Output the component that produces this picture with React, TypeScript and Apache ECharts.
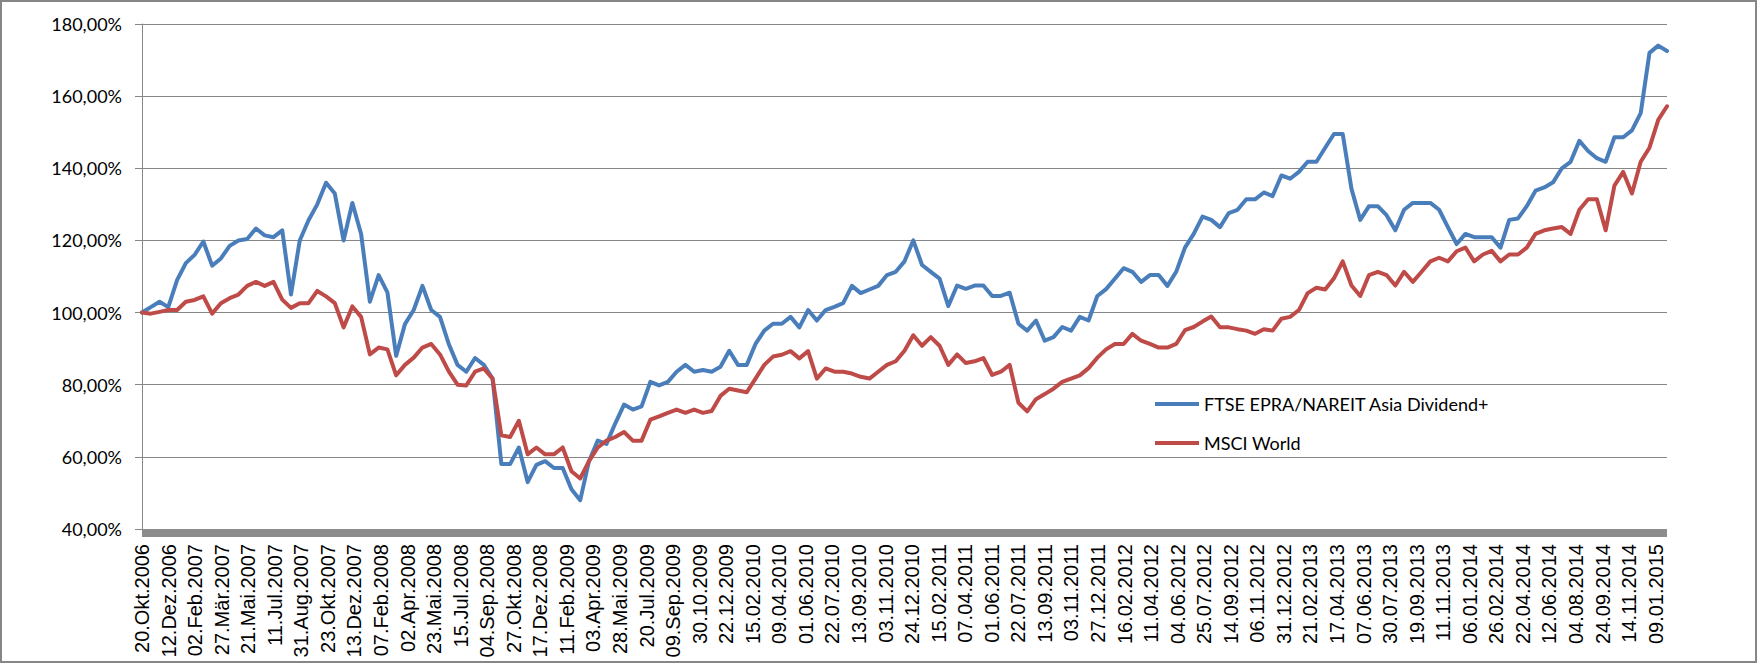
import React, { useEffect, useRef } from "react";
import * as echarts from "echarts";

// Tick labels of the category (date) axis, one per label interval
const DATE_LABELS = [
  "20.Okt.2006", "12.Dez.2006", "02.Feb.2007", "27.Mär.2007", "21.Mai.2007", "11.Jul.2007",
  "31.Aug.2007", "23.Okt.2007", "13.Dez.2007", "07.Feb.2008", "02.Apr.2008", "23.Mai.2008",
  "15.Jul.2008", "04.Sep.2008", "27.Okt.2008", "17.Dez.2008", "11.Feb.2009", "03.Apr.2009",
  "28.Mai.2009", "20.Jul.2009", "09.Sep.2009", "30.10.2009", "22.12.2009", "15.02.2010",
  "09.04.2010", "01.06.2010", "22.07.2010", "13.09.2010", "03.11.2010", "24.12.2010",
  "15.02.2011", "07.04.2011", "01.06.2011", "22.07.2011", "13.09.2011", "03.11.2011",
  "27.12.2011", "16.02.2012", "11.04.2012", "04.06.2012", "25.07.2012", "14.09.2012",
  "06.11.2012", "31.12.2012", "21.02.2013", "17.04.2013", "07.06.2013", "30.07.2013",
  "19.09.2013", "11.11.2013", "06.01.2014", "26.02.2014", "22.04.2014", "12.06.2014",
  "04.08.2014", "24.09.2014", "14.11.2014", "09.01.2015",
];

// number of read samples between two consecutive date labels
const SAMPLES_PER_LABEL = 3.03;

const SERIES_NAMES = ["FTSE EPRA/NAREIT Asia Dividend+", "MSCI World"];

const ASIA_DIVIDEND = [
  100, 101.5, 103,
  101.5, 109, 113.7,
  116, 119.7, 113,
  115, 118.5, 120,
  120.4, 123.3, 121.4,
  120.9, 122.8, 105,
  120, 125.6, 130,
  136, 133, 120,
  130.4, 121.8, 103,
  110.4, 105.6, 88,
  96.8, 100.7, 107.4,
  100.7, 98.8, 91.3,
  85.5, 83.6, 87.4,
  85.5, 81.7, 58,
  58, 62.6, 53,
  57.8, 58.8, 56.9,
  56.9, 51, 48,
  58.8, 64.5, 63.6,
  69.3, 74.5, 73.1,
  74, 80.8, 79.8,
  80.8, 83.6, 85.5,
  83.6, 84.1, 83.6,
  85, 89.4, 85.5,
  85.5, 91.3, 95,
  96.9, 96.9, 98.8,
  95.9, 100.7, 97.8,
  100.7, 101.6, 102.6,
  107.4, 105.4, 106.4,
  107.4, 110.4, 111.3,
  114.2, 120, 113.2,
  111.3, 109.4, 101.8,
  107.5, 106.6, 107.5,
  107.5, 104.6, 104.6,
  105.5, 96.9, 95,
  97.8, 92.2, 93.2,
  96, 95, 98.8,
  97.8, 104.6, 106.5,
  109.4, 112.3, 111.3,
  108.5, 110.4, 110.4,
  107.4, 111.3, 118,
  121.8, 126.6, 125.7,
  123.7, 127.6, 128.5,
  131.4, 131.4, 133.3,
  132.3, 138, 137.1,
  139, 141.8, 141.8,
  145.7, 149.5, 149.5,
  134.3, 125.7, 129.5,
  129.5, 127, 122.8,
  128.5, 130.4, 130.4,
  130.4, 128.5, 123.7,
  119, 121.8, 120.9,
  120.9, 120.9, 118,
  125.7, 126.1, 129.5,
  133.8, 134.7, 136.1,
  140, 141.8, 147.6,
  144.8, 142.8, 141.8,
  148.6, 148.6, 150.5,
  155.3, 172, 174,
  172.5,
];

const MSCI_WORLD = [
  100, 99.7, 100.2,
  100.7, 100.7, 103,
  103.5, 104.5, 99.7,
  102.6, 104, 105,
  107.4, 108.5, 107.4,
  108.5, 103.6, 101.3,
  102.6, 102.6, 106,
  104.5, 102.6, 95.9,
  101.7, 98.8, 88.4,
  90.3, 89.8, 82.6,
  85.5, 87.5, 90.3,
  91.3, 88.4, 83.7,
  80, 79.8, 83.6,
  84.5, 81.7, 66,
  65.5, 70, 60.7,
  62.6, 60.7, 60.7,
  62.6, 56, 54,
  58.8, 62.6, 64.5,
  65.5, 66.9, 64.5,
  64.5, 70.3, 71.2,
  72.2, 73.1, 72.2,
  73.1, 72.2, 72.7,
  76.9, 78.9, 78.4,
  77.9, 81.7, 85.5,
  87.8, 88.3, 89.3,
  87.3, 89.3, 81.7,
  84.5, 83.6, 83.6,
  83.1, 82.2, 81.7,
  83.6, 85.5, 86.5,
  89.4, 93.7, 90.8,
  93.2, 90.8, 85.5,
  88.4, 86, 86.5,
  87.4, 82.7, 83.6,
  85.5, 75, 72.6,
  76, 77.4, 78.9,
  80.8, 81.7, 82.6,
  84.6, 87.5, 89.8,
  91.3, 91.3, 94.1,
  92.2, 91.3, 90.3,
  90.3, 91.3, 95.1,
  96, 97.5, 98.9,
  95.9, 95.9, 95.4,
  95, 94.1, 95.4,
  95, 98.3, 98.8,
  100.7, 105.4, 106.9,
  106.4, 109.5, 114.2,
  107.5, 104.6, 110.4,
  111.3, 110.4, 107.5,
  111.3, 108.5, 111.3,
  114.2, 115.2, 114.2,
  117, 118, 114.2,
  116.1, 117.1, 114.2,
  116.1, 116.1, 118,
  121.8, 122.8, 123.3,
  123.7, 121.8, 128.5,
  131.4, 131.4, 122.8,
  135.2, 139, 133,
  141.8, 145.7, 153.4,
  157.2,
];

const Y_MIN = 40;
const Y_MAX = 180;
const Y_STEP = 20;

const toPairs = (values: number[]) => values.map((v, i) => [i, v]);

const dateLabel = (v: number) => {
  const k = v / SAMPLES_PER_LABEL;
  const r = Math.round(k);
  if (Math.abs(k - r) > 0.01) return "";
  return DATE_LABELS[r] ?? "";
};

export default function App() {
  const ref = useRef<HTMLDivElement>(null);

  useEffect(() => {
    document.body.style.margin = "0";
    if (!ref.current) return;
    const chart = echarts.init(ref.current, null, { renderer: "svg" });
    chart.setOption({
      animation: false,
      backgroundColor: "#ffffff",
      graphic: [
        {
          type: "rect",
          silent: true,
          shape: { x: 1, y: 1, width: 1755, height: 661 },
          style: { fill: "none", stroke: "#868686", lineWidth: 2 },
        },
      ],
      grid: { left: 142, right: 91, top: 24, bottom: 136, containLabel: false },
      legend: {
        orient: "vertical",
        left: 1150,
        top: 390,
        icon: "rect",
        itemWidth: 44,
        itemHeight: 4,
        itemGap: 21,
        textStyle: { fontFamily: "Lato", fontSize: 18, color: "#000" },
        data: SERIES_NAMES,
      },
      xAxis: {
        type: "value",
        min: 0,
        max: ASIA_DIVIDEND.length - 1,
        interval: SAMPLES_PER_LABEL,
        offset: 4,
        axisLine: { show: true, lineStyle: { color: "#8c8c8c", width: 8, cap: "butt" } },
        axisTick: { show: false },
        splitLine: { show: false },
        axisLabel: {
          rotate: 90,
          margin: 11,
          fontFamily: "Liberation Sans",
          fontSize: 20,
          color: "#000",
          showMaxLabel: false,
          formatter: dateLabel,
        },
      },
      yAxis: {
        type: "value",
        min: Y_MIN,
        max: Y_MAX,
        interval: Y_STEP,
        axisLine: { show: true, lineStyle: { color: "#868686", width: 1 } },
        axisTick: { show: true, length: 7, lineStyle: { color: "#868686" } },
        splitLine: { show: true, lineStyle: { color: "#868686", width: 1 } },
        axisLabel: {
          margin: 20,
          fontFamily: "Lato",
          fontSize: 18,
          color: "#000",
          formatter: (v: number) => `${v},00%`,
        },
      },
      series: [
        {
          name: SERIES_NAMES[0],
          type: "line",
          data: toPairs(ASIA_DIVIDEND),
          showSymbol: false,
          symbol: "none",
          color: "#4a7ebb",
          lineStyle: { color: "#4a7ebb", width: 4, join: "round", cap: "round" },
        },
        {
          name: SERIES_NAMES[1],
          type: "line",
          data: toPairs(MSCI_WORLD),
          showSymbol: false,
          symbol: "none",
          color: "#be4b48",
          lineStyle: { color: "#be4b48", width: 4, join: "round", cap: "round" },
        },
      ],
    });
    return () => chart.dispose();
  }, []);

  return <div ref={ref} style={{ width: 1758, height: 665 }} />;
}
